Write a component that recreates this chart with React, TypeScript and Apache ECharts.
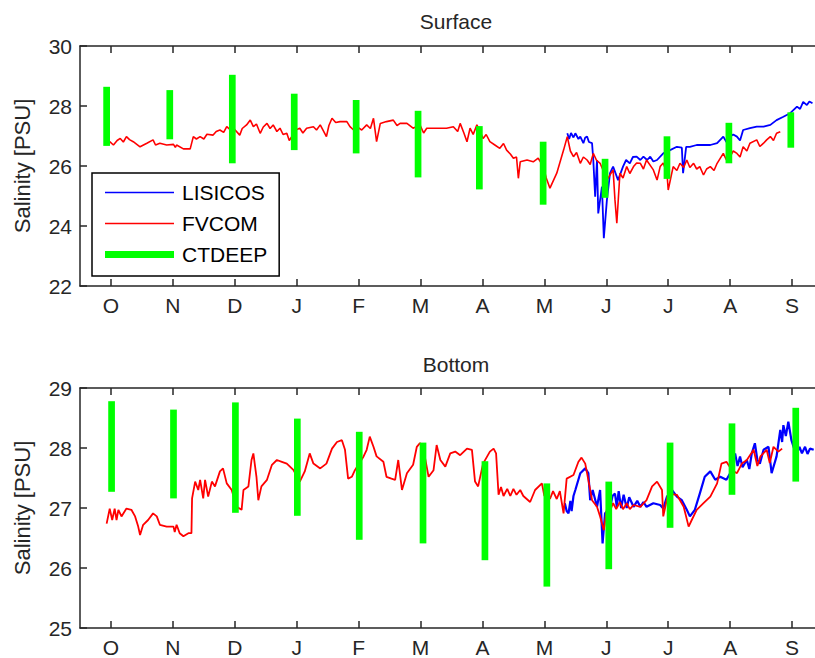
import React, { useEffect, useRef } from "react";
import * as echarts from "echarts";

// x = months since 1 October (O tick = 0, N = 1, ... S = 11)
const MONTH_LABELS = ["O", "N", "D", "J", "F", "M", "A", "M", "J", "J", "A", "S"];
const MONTH_TICKS = [0, 1, 2, 3, 4, 5, 6, 7, 8, 9, 10, 11];

const surfaceFvcom: number[][] = [
  [-0.02, 26.81], [0.04, 26.7], [0.1, 26.85], [0.15, 26.92], [0.2, 26.8], [0.25, 26.98], [0.3, 26.88], [0.36, 26.81], [0.47, 26.64],
  [0.58, 26.76], [0.68, 26.87], [0.72, 26.7], [0.79, 26.76], [0.9, 26.7], [1.01, 26.72], [1.04, 26.62], [1.06, 26.7],
  [1.17, 26.57], [1.28, 26.57], [1.33, 26.98], [1.38, 26.9], [1.44, 26.98], [1.5, 26.9], [1.55, 27.06], [1.65, 27.03],
  [1.7, 27.15], [1.76, 27.2], [1.82, 27.12], [1.87, 27.31], [1.93, 27.2], [1.98, 27.26], [2.08, 27.03], [2.12, 27.25], [2.19, 27.37], [2.25, 27.53],
  [2.3, 27.31], [2.35, 27.4], [2.41, 27.09], [2.46, 27.3], [2.52, 27.42], [2.57, 27.25], [2.62, 27.37], [2.68, 27.15], [2.73, 27.26], [2.78, 27.05], [2.84, 27.09],
  [2.88, 26.85], [2.92, 26.98], [2.98, 27.2], [3.05, 27.26], [3.1, 27.1], [3.16, 27.26], [3.27, 27.31], [3.32, 27.2], [3.38, 27.37], [3.48, 26.98],
  [3.52, 27.35], [3.57, 27.59], [3.63, 27.45], [3.7, 27.48], [3.81, 27.48], [3.86, 27.31], [3.92, 27.2], [3.97, 27.31], [4.05, 27.2], [4.13, 27.37],
  [4.19, 27.25], [4.24, 27.59], [4.29, 26.81], [4.35, 27.42], [4.45, 27.48], [4.56, 27.53], [4.62, 27.35], [4.67, 27.42],
  [4.78, 27.42], [4.88, 27.26], [4.99, 27.37], [5.05, 27.1], [5.1, 27.26], [5.21, 27.26], [5.32, 27.26],
  [5.42, 27.26], [5.53, 27.31], [5.6, 27.15], [5.64, 27.42], [5.7, 27.1], [5.75, 26.81], [5.8, 27.26], [5.85, 27.05], [5.91, 27.37],
  [6.01, 26.92], [6.06, 27.05], [6.12, 26.81], [6.2, 26.7], [6.28, 26.59], [6.34, 26.75], [6.39, 26.53], [6.45, 26.4], [6.5, 26.26], [6.55, 26.3], [6.58, 25.59],
  [6.61, 26.14], [6.72, 26.2], [6.82, 26.14], [6.9, 26.26], [6.98, 26.0], [7.03, 25.6], [7.09, 25.26], [7.2, 25.76],
  [7.31, 26.53], [7.37, 26.98], [7.42, 26.5], [7.47, 26.31], [7.52, 26.45], [7.58, 26.09], [7.63, 26.3], [7.69, 26.2], [7.74, 26.05], [7.79, 26.42],
  [7.84, 26.2], [7.9, 26.09], [7.96, 25.8], [8.01, 25.53], [8.11, 25.87], [8.14, 24.87], [8.17, 24.09], [8.22, 25.76],
  [8.27, 25.6], [8.33, 25.98], [8.38, 25.75], [8.44, 25.98], [8.49, 26.1], [8.55, 26.09], [8.6, 25.9], [8.65, 26.2], [8.76, 25.87], [8.82, 25.53],
  [8.87, 25.98], [8.92, 26.1], [8.98, 25.76], [9.0, 25.2], [9.08, 25.98], [9.14, 25.85], [9.19, 26.09], [9.25, 25.95], [9.3, 26.2],
  [9.35, 25.95], [9.41, 26.09], [9.46, 25.9], [9.51, 25.98], [9.57, 25.7], [9.62, 25.9], [9.68, 25.98], [9.74, 25.85], [9.79, 26.09], [9.89, 26.42],
  [9.94, 26.2], [10.0, 26.31], [10.05, 26.5], [10.11, 26.42], [10.16, 26.3], [10.21, 26.64], [10.27, 26.5], [10.32, 26.76], [10.43, 26.87], [10.48, 26.65], [10.54, 26.76],
  [10.59, 26.87], [10.65, 26.98], [10.7, 26.85], [10.75, 27.09], [10.81, 27.14],
];

const surfaceLisicos: number[][] = [
  [7.37, 27.09], [7.4, 26.9], [7.43, 27.1], [7.47, 26.95], [7.5, 27.09], [7.55, 26.9], [7.58, 26.98],
  [7.63, 26.76], [7.66, 26.95], [7.69, 26.98], [7.72, 26.8], [7.77, 26.76],
  [7.79, 26.2], [7.82, 24.98], [7.85, 26.2], [7.87, 24.42], [7.93, 25.31], [7.96, 23.59],
  [8.01, 24.87], [8.06, 25.76], [8.11, 25.98], [8.19, 25.53], [8.27, 25.98], [8.32, 26.2], [8.38, 26.09],
  [8.43, 26.3], [8.49, 26.31], [8.55, 26.2], [8.6, 26.31], [8.66, 26.2], [8.71, 26.31], [8.76, 26.15], [8.82, 26.2], [8.92, 26.42], [9.03, 26.53],
  [9.14, 26.64], [9.22, 26.61], [9.24, 25.76], [9.29, 26.64], [9.35, 26.64], [9.46, 26.7],
  [9.57, 26.7], [9.68, 26.7], [9.79, 26.76], [9.89, 26.98], [9.94, 26.8], [10.0, 26.98], [10.05, 27.05], [10.11, 26.98],
  [10.16, 26.85], [10.21, 27.2], [10.32, 27.26], [10.43, 27.31], [10.54, 27.31], [10.65, 27.37], [10.75, 27.53],
  [10.86, 27.64], [10.97, 27.76], [11.08, 27.98], [11.13, 27.9], [11.18, 28.14], [11.24, 28.03], [11.28, 28.15], [11.33, 28.09],
];

const surfaceCtdX = [-0.07, 0.95, 1.96, 2.96, 3.96, 4.96, 5.95, 6.98, 7.98, 8.98, 9.98, 10.98];
const surfaceCtdLow = [26.67, 26.89, 26.09, 26.53, 26.42, 25.62, 25.22, 24.71, 24.94, 25.57, 26.09, 26.61];
const surfaceCtdHigh = [28.64, 28.53, 29.04, 28.41, 28.2, 27.84, 27.33, 26.81, 26.24, 26.99, 27.44, 27.79];

const bottomFvcom: number[][] = [
  [-0.07, 26.74], [-0.02, 26.99], [0.02, 26.8], [0.06, 26.99], [0.09, 26.8], [0.12, 26.97], [0.17, 26.86], [0.25, 26.99],
  [0.33, 26.97], [0.39, 26.86], [0.44, 26.69], [0.47, 26.55], [0.52, 26.72], [0.6, 26.8],
  [0.68, 26.91], [0.74, 26.86], [0.79, 26.72], [0.9, 26.69], [1.01, 26.69], [1.03, 26.6], [1.06, 26.72],
  [1.11, 26.58], [1.17, 26.53], [1.25, 26.58], [1.3, 26.58], [1.31, 27.16], [1.36, 27.44],
  [1.41, 27.3], [1.44, 27.47], [1.49, 27.16], [1.52, 27.47], [1.57, 27.19], [1.63, 27.44],
  [1.68, 27.36], [1.76, 27.61], [1.81, 27.66], [1.87, 27.41], [1.95, 27.3], [2.03, 27.02],
  [2.11, 26.97], [2.14, 27.3], [2.22, 27.36], [2.27, 27.8], [2.3, 27.91], [2.35, 27.52],
  [2.38, 27.13], [2.43, 27.36], [2.52, 27.47], [2.6, 27.72], [2.68, 27.8], [2.76, 27.77],
  [2.84, 27.74], [2.95, 27.63], [3.05, 27.44], [3.13, 27.61], [3.21, 27.91], [3.27, 27.74],
  [3.38, 27.66], [3.48, 27.74], [3.57, 27.99], [3.65, 28.1], [3.73, 28.13], [3.78, 27.97],
  [3.83, 27.49], [3.89, 27.52], [3.94, 27.63], [4.08, 27.86], [4.13, 27.97], [4.18, 28.19],
  [4.24, 28.02], [4.29, 27.86], [4.4, 27.77], [4.45, 27.52], [4.53, 27.49], [4.59, 27.47],
  [4.64, 27.8], [4.7, 27.3], [4.78, 27.58], [4.88, 27.72], [4.94, 28.02], [4.99, 28.08],
  [5.04, 28.02], [5.13, 27.52], [5.21, 27.63], [5.26, 28.05], [5.32, 27.8], [5.4, 27.69],
  [5.48, 27.91], [5.56, 27.94], [5.64, 27.88], [5.75, 27.99], [5.83, 27.97], [5.88, 27.44],
  [5.93, 27.36], [6.01, 27.74], [6.12, 27.94], [6.18, 27.99], [6.22, 27.91], [6.26, 27.22],
  [6.3, 27.35], [6.34, 27.2], [6.4, 27.32], [6.45, 27.2], [6.5, 27.32], [6.55, 27.22], [6.61, 27.3], [6.66, 27.2], [6.77, 27.1], [6.85, 27.3],
  [6.96, 27.41], [7.0, 27.2], [7.04, 27.3], [7.09, 27.15], [7.14, 27.28], [7.2, 27.15], [7.25, 27.28], [7.31, 26.91], [7.36, 27.49],
  [7.47, 27.55], [7.55, 27.77], [7.6, 27.84], [7.66, 27.74], [7.71, 27.47], [7.77, 27.13],
  [7.85, 27.02], [7.9, 26.86], [7.96, 26.63], [8.03, 27.13], [8.07, 26.98], [8.11, 27.08], [8.16, 26.98], [8.22, 27.1],
  [8.27, 26.98], [8.33, 27.08], [8.38, 26.98], [8.44, 27.05], [8.55, 27.02], [8.65, 27.13], [8.74, 27.36], [8.82, 27.44],
  [8.9, 27.3], [8.92, 26.86], [9.0, 27.24], [9.14, 27.22], [9.25, 27.02], [9.33, 26.69],
  [9.38, 26.8], [9.46, 26.97], [9.57, 27.08], [9.68, 27.19], [9.79, 27.41], [9.86, 27.74],
  [9.94, 27.77], [10.03, 27.63], [10.11, 27.58], [10.19, 27.74], [10.27, 27.8], [10.38, 27.97],
  [10.44, 27.7], [10.49, 27.86], [10.59, 27.97], [10.64, 27.75], [10.7, 28.02], [10.78, 27.94], [10.84, 27.99],
];

const bottomLisicos: number[][] = [
  [7.33, 27.08], [7.36, 26.95], [7.39, 26.91], [7.42, 27.12], [7.44, 26.95], [7.47, 27.2], [7.5, 27.3], [7.58, 27.58], [7.66, 27.66],
  [7.71, 27.58], [7.74, 27.13], [7.78, 27.3], [7.85, 27.02], [7.9, 27.3], [7.94, 26.41], [7.98, 26.91],
  [8.06, 26.99], [8.1, 27.2], [8.14, 27.24], [8.17, 27.02], [8.2, 27.28], [8.24, 27.0], [8.28, 27.22], [8.33, 27.0],
  [8.37, 27.18], [8.44, 27.02], [8.5, 27.12], [8.55, 27.02], [8.6, 27.1], [8.65, 27.02], [8.76, 27.08], [8.87, 27.05],
  [8.92, 26.99], [8.98, 27.19], [9.06, 27.3], [9.14, 27.19], [9.22, 27.13], [9.3, 26.97], [9.35, 26.86], [9.43, 26.97],
  [9.51, 27.24], [9.59, 27.52], [9.68, 27.61], [9.76, 27.47], [9.84, 27.52], [9.94, 27.47], [10.0, 27.58],
  [10.04, 27.75], [10.08, 27.91], [10.12, 27.7], [10.16, 27.86], [10.2, 27.68], [10.27, 27.8], [10.31, 27.65], [10.35, 27.91], [10.4, 28.08], [10.44, 27.8], [10.48, 27.74],
  [10.54, 27.97], [10.62, 28.02], [10.67, 27.58], [10.75, 27.86], [10.81, 28.3], [10.84, 28.1], [10.86, 28.38],
  [10.9, 28.2], [10.94, 28.44], [10.99, 28.13], [11.03, 28.0], [11.08, 27.91], [11.12, 28.02], [11.16, 27.91], [11.21, 28.02], [11.25, 27.9],
  [11.29, 27.99], [11.35, 27.97],
];

const bottomCtdX = [0.01, 1.01, 2.01, 3.01, 4.01, 5.04, 6.04, 7.04, 8.04, 9.03, 10.03, 11.06];
const bottomCtdLow = [27.27, 27.16, 26.92, 26.87, 26.47, 26.41, 26.13, 25.69, 25.98, 26.67, 27.22, 27.44];
const bottomCtdHigh = [28.78, 28.64, 28.76, 28.49, 28.27, 28.09, 27.78, 27.41, 27.44, 28.09, 28.41, 28.67];

const FONT = "'Liberation Sans', Arial, Helvetica, sans-serif";
const TEXT = "#262626";
const AXIS = "#262626";
const BLUE = "#0000ff";
const RED = "#ff0000";
const GREEN = "#00ff00";

function ctdData(xs: number[], lo: number[], hi: number[]) {
  return xs.map((x, i) => [x, lo[i], hi[i]]);
}

function xAxes(gridIndex: number) {
  const base = {
    type: "value",
    gridIndex,
    min: -0.5,
    max: 11.5,
    splitLine: { show: false },
    axisLine: { show: true, onZero: false, lineStyle: { color: AXIS, width: 1.5 } },
    axisTick: {
      show: true,
      inside: true,
      length: 7,
      customValues: MONTH_TICKS,
      lineStyle: { color: AXIS, width: 1.5 },
    },
  };
  return [
    {
      ...base,
      position: "bottom",
      axisLabel: {
        show: true,
        customValues: MONTH_TICKS,
        formatter: (v: number) => MONTH_LABELS[Math.round(v)] ?? "",
        fontSize: 21,
        fontFamily: FONT,
        color: TEXT,
        margin: 9,
      },
    },
    {
      ...base,
      position: "top",
      axisLabel: { show: false },
    },
  ];
}

function yAxis(gridIndex: number, min: number, max: number, interval: number) {
  return {
    type: "value",
    gridIndex,
    min,
    max,
    interval,
    position: "left",
    name: "Salinity [PSU]",
    nameLocation: "middle",
    nameRotate: 90,
    nameGap: 47,
    nameTextStyle: { fontSize: 22, fontFamily: FONT, color: TEXT },
    splitLine: { show: false },
    axisLine: { show: true, onZero: false, lineStyle: { color: AXIS, width: 1.5 } },
    axisTick: { show: true, inside: true, length: 7, lineStyle: { color: AXIS, width: 1.5 } },
    axisLabel: { fontSize: 21, fontFamily: FONT, color: TEXT, margin: 8 },
  };
}

function ctdSeries(xAxisIndex: number, yAxisIndex: number, data: number[][]) {
  return {
    name: "CTDEEP",
    type: "custom",
    xAxisIndex,
    yAxisIndex,
    itemStyle: { color: GREEN },
    encode: { x: 0, y: [1, 2] },
    data,
    renderItem: (_params: any, api: any) => {
      const x = api.value(0);
      const lo = api.value(1);
      const hi = api.value(2);
      const pTop = api.coord([x, hi]);
      const pBot = api.coord([x, lo]);
      const w = 6.7;
      return {
        type: "rect",
        shape: { x: pTop[0] - w / 2, y: pTop[1], width: w, height: pBot[1] - pTop[1] },
        style: { fill: GREEN },
      };
    },
    z: 3,
  };
}

function lineSeries(name: string, color: string, width: number, xAxisIndex: number, yAxisIndex: number, data: number[][]) {
  return {
    name,
    type: "line",
    xAxisIndex,
    yAxisIndex,
    data,
    symbol: "none",
    showSymbol: false,
    color,
    lineStyle: { color, width },
    itemStyle: { color },
    z: 2,
  };
}

export default function App() {
  const ref = useRef<HTMLDivElement>(null);

  useEffect(() => {
    if (!ref.current) return;
    const chart = echarts.init(ref.current, null, { renderer: "svg" });
    const option: any = {
      animation: false,
      backgroundColor: "#ffffff",
      textStyle: { fontFamily: FONT },
      title: [
        {
          text: "Surface",
          left: 451,
          top: 6,
          textAlign: "center",
          textStyle: { fontSize: 21, fontWeight: "normal", fontFamily: FONT, color: TEXT },
        },
        {
          text: "Bottom",
          left: 451,
          top: 349,
          textAlign: "center",
          textStyle: { fontSize: 21, fontWeight: "normal", fontFamily: FONT, color: TEXT },
        },
      ],
      grid: [
        { left: 80, top: 46, width: 743, height: 240, outerBoundsMode: "none", containLabel: false },
        { left: 80, top: 388, width: 743, height: 240, outerBoundsMode: "none", containLabel: false },
      ],
      xAxis: [...xAxes(0), ...xAxes(1)],
      yAxis: [yAxis(0, 22, 30, 2), yAxis(1, 25, 29, 1)],
      legend: {
        orient: "vertical",
        left: 92,
        top: 173,
        padding: [9, 12, 11, 13],
        backgroundColor: "#ffffff",
        borderColor: "#000000",
        borderWidth: 1.5,
        itemWidth: 69,
        itemHeight: 14,
        itemGap: 10,
        selectedMode: false,
        itemStyle: { borderWidth: 0 },
        textStyle: { fontSize: 21, fontFamily: FONT, color: "#000", lineHeight: 21, padding: [0, 0, 0, 3] },
        data: [
          { name: "LISICOS", icon: "path://M0,0H69V1.5H0Z", itemStyle: { color: BLUE } },
          { name: "FVCOM", icon: "path://M0,0H69V1.5H0Z", itemStyle: { color: RED } },
          { name: "CTDEEP", icon: "path://M0,0H69V7H0Z", itemStyle: { color: GREEN } },
        ],
        z: 10,
      },
      series: [
        lineSeries("LISICOS", BLUE, 1.8, 0, 0, surfaceLisicos),
        lineSeries("FVCOM", RED, 1.6, 0, 0, surfaceFvcom),
        ctdSeries(0, 0, ctdData(surfaceCtdX, surfaceCtdLow, surfaceCtdHigh)),
        lineSeries("LISICOS", BLUE, 2.2, 2, 1, bottomLisicos),
        lineSeries("FVCOM", RED, 1.8, 2, 1, bottomFvcom),
        ctdSeries(2, 1, ctdData(bottomCtdX, bottomCtdLow, bottomCtdHigh)),
      ],
    };
    chart.setOption(option);
    return () => chart.dispose();
  }, []);

  return (
    <div
      ref={ref}
      style={{ position: "fixed", left: 0, top: 0, width: 815, height: 658, background: "#fff" }}
    />
  );
}
